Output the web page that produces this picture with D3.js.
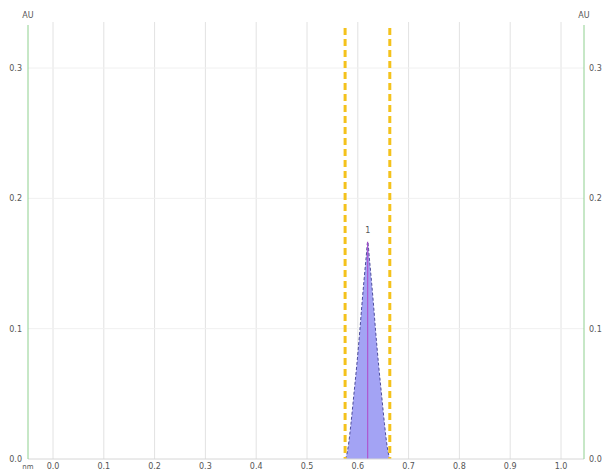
<!DOCTYPE html>
<html><head><meta charset="utf-8">
<script src="https://cdn.jsdelivr.net/npm/d3@7"></script>
<style>body{margin:0;background:#fff}svg{display:block}text{font-family:"DejaVu Sans",sans-serif}</style>
</head><body>
<svg id="c" width="602" height="470"></svg>
<script>
const xTicks = [0.0,0.1,0.2,0.3,0.4,0.5,0.6,0.7,0.8,0.9,1.0];
const yTicks = [0.0,0.1,0.2,0.3];
const xUnit = "nm";
const yUnit = "AU";
const peakX = [0.5752,0.578,0.5811,0.5865,0.5919,0.598,0.6041,0.608,0.6122,0.6165,0.6195,0.6225,0.6268,0.631,0.6349,0.641,0.6471,0.6525,0.6579,0.661,0.6638];
const peakY = [0.0,0.003,0.0094,0.027,0.048,0.072,0.099,0.118,0.137,0.155,0.1667,0.155,0.137,0.118,0.099,0.072,0.048,0.027,0.0094,0.003,0.0];
const peakLabels = ["1"];
const peakLabelX = [0.6195];
const peakLabelY = [0.1667];
const regionLines = [0.575,0.663];

const svg = d3.select("#c");
const x = d3.scaleLinear().domain([0,1]).range([53,561]);
const y = d3.scaleLinear().domain([0,0.3]).range([459,68]);
const L = 28, R = 584, T = 22, B = 459;

svg.append("g").selectAll("line").data(xTicks).join("line")
  .attr("x1",d=>x(d)).attr("x2",d=>x(d)).attr("y1",T).attr("y2",B)
  .attr("stroke","#e2e2e2").attr("stroke-width",1);
svg.append("g").selectAll("line").data(yTicks.filter(d=>d>0)).join("line")
  .attr("x1",L).attr("x2",R).attr("y1",d=>y(d)).attr("y2",d=>y(d))
  .attr("stroke","#f0f0f0").attr("stroke-width",1);

const pts = peakX.map((d,i)=>[d,peakY[i]]);
const area = d3.area().x(d=>x(d[0])).y0(y(0)).y1(d=>y(d[1])).curve(d3.curveMonotoneX);
const line = d3.line().x(d=>x(d[0])).y(d=>y(d[1])).curve(d3.curveMonotoneX);
svg.append("path").datum(pts).attr("d",area).attr("fill","#a3a3f4");
svg.append("path").datum(pts).attr("d",line).attr("fill","none")
  .attr("stroke","#4c4c9c").attr("stroke-width",1).attr("stroke-dasharray","3,2");
svg.append("g").selectAll("line").data(peakLabelX).join("line")
  .attr("x1",d=>x(d)).attr("x2",d=>x(d)).attr("y1",(d,i)=>y(peakLabelY[i])).attr("y2",y(0))
  .attr("stroke","#b048c8").attr("stroke-width",1);
svg.append("g").selectAll("text").data(peakLabels).join("text")
  .attr("x",(d,i)=>x(peakLabelX[i])).attr("y",(d,i)=>y(peakLabelY[i])-9)
  .attr("text-anchor","middle").attr("font-size",8).attr("fill","#555").text(d=>d);

svg.append("g").selectAll("line").data(regionLines).join("line")
  .attr("x1",d=>x(d)).attr("x2",d=>x(d)).attr("y1",28).attr("y2",B)
  .attr("stroke","#f4c21c").attr("stroke-width",3).attr("stroke-dasharray","7,4");

svg.append("line").attr("x1",L).attr("x2",R).attr("y1",B).attr("y2",B).attr("stroke","#d6d6d6");
svg.append("line").attr("x1",L).attr("x2",L).attr("y1",25).attr("y2",B).attr("stroke","#8fd08f");
svg.append("line").attr("x1",R).attr("x2",R).attr("y1",25).attr("y2",B).attr("stroke","#8fd08f");

const fmt = d3.format(".1f");
svg.append("g").selectAll("text").data(xTicks).join("text")
  .attr("x",d=>x(d)).attr("y",469).attr("text-anchor","middle")
  .attr("font-size",8).attr("fill","#555").text(d=>fmt(d));
svg.append("g").selectAll("text").data(yTicks).join("text")
  .attr("x",22).attr("y",d=>y(d)+3).attr("text-anchor","end")
  .attr("font-size",8).attr("fill","#555").text(d=>fmt(d));
svg.append("g").selectAll("text").data(yTicks).join("text")
  .attr("x",589).attr("y",d=>y(d)+3).attr("text-anchor","start")
  .attr("font-size",8).attr("fill","#555").text(d=>fmt(d));
svg.append("text").attr("x",L).attr("y",18).attr("text-anchor","middle").attr("font-size",8).attr("fill","#555").text(yUnit);
svg.append("text").attr("x",R).attr("y",18).attr("text-anchor","middle").attr("font-size",8).attr("fill","#555").text(yUnit);
svg.append("text").attr("x",L).attr("y",469).attr("text-anchor","middle").attr("font-size",7).attr("fill","#555").text(xUnit);
</script>
</body></html>
